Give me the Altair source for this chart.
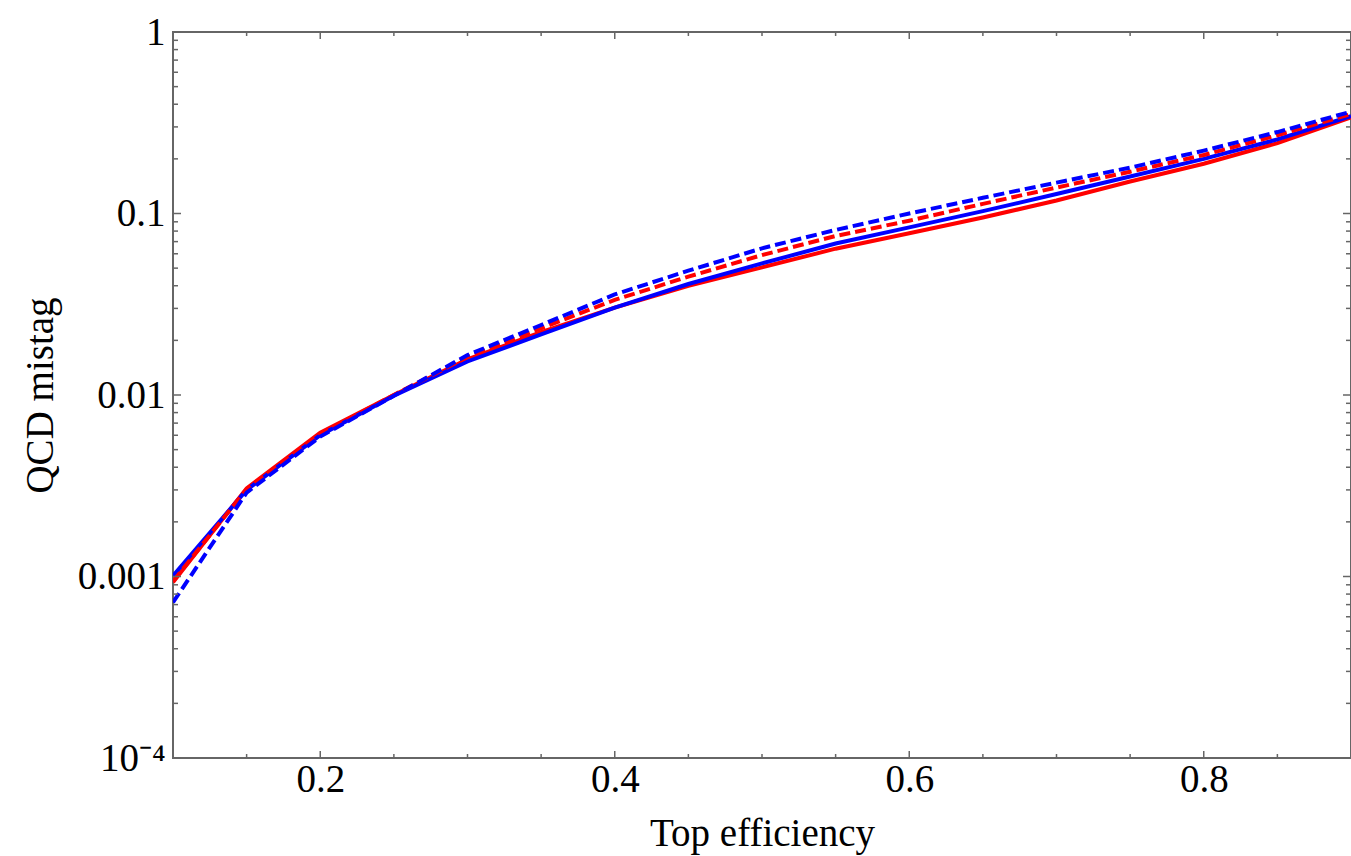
import altair as alt
import pandas as pd

# ---- data ----
x_eff = [0.1, 0.15, 0.2, 0.25, 0.3, 0.35, 0.4, 0.45, 0.5, 0.55, 0.6, 0.65, 0.7, 0.75, 0.8, 0.85, 0.9]
red_solid = [0.00093, 0.00306, 0.0062, 0.0100, 0.0157, 0.0222, 0.0303, 0.0399, 0.0505, 0.0640, 0.0778, 0.095, 0.118, 0.150, 0.188, 0.244, 0.339]
blue_solid = [0.00101, 0.0030, 0.0060, 0.0099, 0.0153, 0.0216, 0.0303, 0.0409, 0.0531, 0.0683, 0.0839, 0.103, 0.128, 0.160, 0.200, 0.256, 0.344]
red_dashed = [0.00094, 0.00303, 0.0061, 0.0100, 0.0162, 0.0233, 0.0334, 0.0449, 0.0590, 0.0752, 0.0913, 0.113, 0.139, 0.170, 0.210, 0.270, 0.353]
blue_dashed = [0.00072, 0.0029, 0.0059, 0.0099, 0.0166, 0.0243, 0.0358, 0.0484, 0.0643, 0.0812, 0.100, 0.122, 0.148, 0.179, 0.222, 0.281, 0.364]

x_major = [0.2, 0.4, 0.6, 0.8]
x_minor = [0.15, 0.25, 0.3, 0.35, 0.45, 0.5, 0.55, 0.65, 0.7, 0.75, 0.85]
y_major = [1e-4, 1e-3, 1e-2, 1e-1, 1.0]
y_minor = [k * 10.0 ** e for e in range(-4, 0) for k in range(2, 10)]

W, H = 1178, 726
FONT = "Liberation Serif"
FRAME = "#666666"

xscale = alt.Scale(domain=[0.1, 0.9], nice=False, zero=False)
yscale = alt.Scale(type="log", domain=[1e-4, 1], nice=False)

xaxis = alt.Axis(values=x_major, format=".1f", labelFont=FONT, labelFontSize=39,
                 labelColor="black", labelPadding=2, ticks=False, domain=False, grid=False,
                 title="Top efficiency", titleFont=FONT, titleFontSize=39,
                 titleFontWeight="normal", titleColor="black", titlePadding=15)
yaxis = alt.Axis(values=y_major, labelFont=FONT, labelFontSize=39, labelColor="black",
                 labelPadding=8, ticks=False, domain=False, grid=False,
                 labelExpr="datum.value < 0.0005 ? '10⁻⁴' : datum.value < 0.005 ? '0.001' : datum.value < 0.05 ? '0.01' : datum.value < 0.5 ? '0.1' : '1'",
                 title="QCD mistag", titleFont=FONT, titleFontSize=39,
                 titleFontWeight="normal", titleColor="black", titlePadding=17)

series = [
    (red_solid, "#ff0000", None),
    (blue_solid, "#0000ff", None),
    (red_dashed, "#ff0000", [11, 5]),
    (blue_dashed, "#0000ff", [11, 5]),
]

layers = []
for i, (vals, col, dash) in enumerate(series):
    df = pd.DataFrame({"x": x_eff, "y": vals})
    kw = dict(color=col, strokeWidth=4, clip=True)
    if dash is not None:
        kw["strokeDash"] = dash
    layers.append(
        alt.Chart(df).mark_line(**kw).encode(
            x=alt.X("x:Q", scale=xscale, axis=xaxis),
            y=alt.Y("y:Q", scale=yscale, axis=yaxis),
        )
    )

def xticks(vals, y0, y1):
    return alt.Chart(pd.DataFrame({"x": vals})).mark_rule(color=FRAME, strokeWidth=1.5).encode(
        x=alt.X("x:Q", scale=xscale, axis=xaxis), y=alt.value(y0), y2=alt.value(y1))

def yticks(vals, x0, x1):
    return alt.Chart(pd.DataFrame({"y": vals})).mark_rule(color=FRAME, strokeWidth=1.5).encode(
        y=alt.Y("y:Q", scale=yscale, axis=yaxis), x=alt.value(x0), x2=alt.value(x1))

ticks = [
    xticks(x_major, H, H - 7), xticks(x_minor, H, H - 4),
    xticks(x_major, 0, 7), xticks(x_minor, 0, 4),
    yticks(y_major, 0, 8), yticks(y_minor, 0, 5),
    yticks(y_major, W, W - 8), yticks(y_minor, W, W - 5),
]

chart = alt.layer(*layers, *ticks).properties(
    width=W, height=H,
    padding={"left": 173, "top": 32, "right": 0, "bottom": 98},
    autosize="none",
).configure_view(stroke=FRAME, strokeWidth=2)

chart.save("out.html", embed_options={"renderer": "svg", "actions": False})
